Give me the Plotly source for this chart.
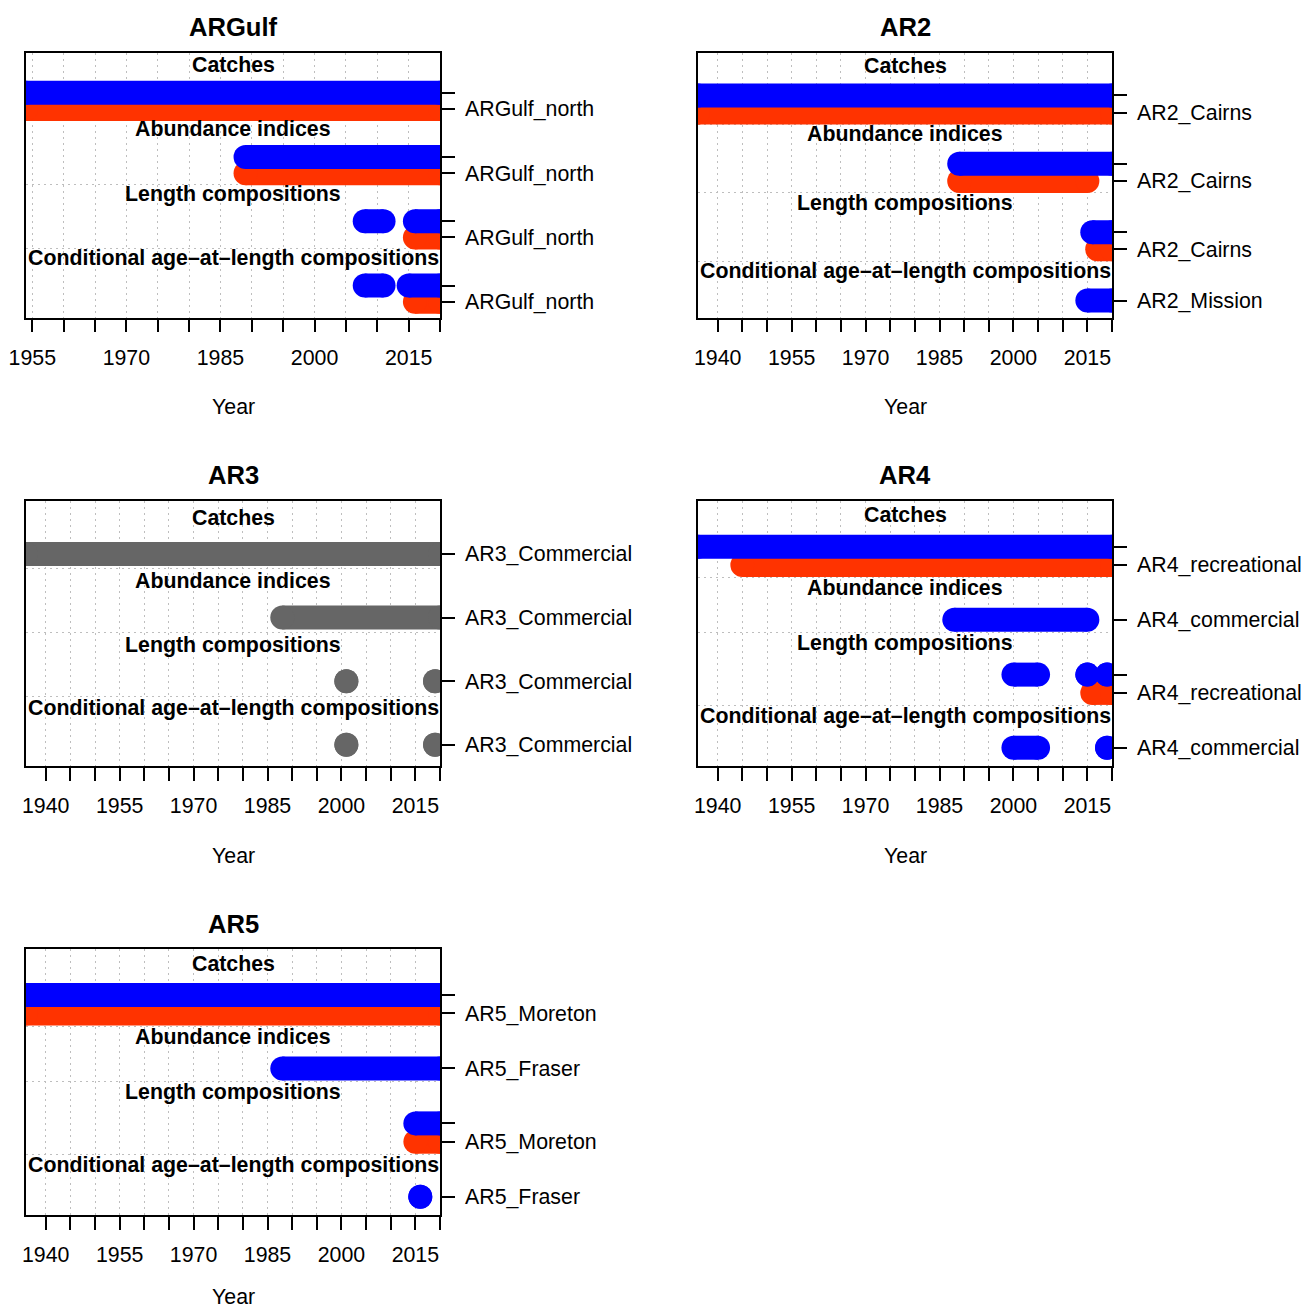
import plotly.graph_objects as go

# ---------------- data ----------------
TYPE_NAMES = ["Catches", "Abundance indices", "Length compositions",
              "Conditional age\u2013at\u2013length compositions"]
PANEL_TITLES = ["ARGulf", "AR2", "AR3", "AR4", "AR5"]

# ARGulf
ARGULF_ROW_TYPE = [0, 0, 1, 1, 2, 2, 3, 3]
ARGULF_ROW_FLEET = [0, 1, 0, 1, 0, 1, 0, 1]
ARGULF_ROW_LABEL = ["", "ARGulf_north", "", "ARGulf_north", "", "ARGulf_north", "", "ARGulf_north"]
ARGULF_ROW_YEARS = [
    [[1954, 2020]], [[1954, 2020]],
    [[1989, 2020]], [[1989, 2020]],
    [[2008, 2011], [2016, 2020]], [[2016, 2020]],
    [[2008, 2011], [2015, 2020]], [[2016, 2020]],
]
ARGULF_YEAR_LABELS = [1955, 1970, 1985, 2000, 2015]

# AR2
AR2_ROW_TYPE = [0, 0, 1, 1, 2, 2, 3]
AR2_ROW_FLEET = [0, 1, 0, 1, 0, 1, 0]
AR2_ROW_LABEL = ["", "AR2_Cairns", "", "AR2_Cairns", "", "AR2_Cairns", "AR2_Mission"]
AR2_ROW_YEARS = [
    [[1936, 2020]], [[1936, 2020]],
    [[1989, 2020]], [[1989, 2015]],
    [[2016, 2020]], [[2017, 2020]],
    [[2015, 2020]],
]
AR2_YEAR_LABELS = [1940, 1955, 1970, 1985, 2000, 2015]

# AR3
AR3_ROW_TYPE = [0, 1, 2, 3]
AR3_ROW_FLEET = [0, 0, 0, 0]
AR3_ROW_LABEL = ["AR3_Commercial", "AR3_Commercial", "AR3_Commercial", "AR3_Commercial"]
AR3_ROW_YEARS = [
    [[1936, 2020]],
    [[1988, 2020]],
    [[2001, 2001], [2019, 2019]],
    [[2001, 2001], [2019, 2019]],
]
AR3_YEAR_LABELS = [1940, 1955, 1970, 1985, 2000, 2015]

# AR4
AR4_ROW_TYPE = [0, 0, 1, 2, 2, 3]
AR4_ROW_FLEET = [0, 1, 0, 0, 1, 0]
AR4_ROW_LABEL = ["", "AR4_recreational", "AR4_commercial", "", "AR4_recreational", "AR4_commercial"]
AR4_ROW_YEARS = [
    [[1936, 2020]], [[1945, 2020]],
    [[1988, 2015]],
    [[2000, 2005], [2015, 2015], [2019, 2019]], [[2016, 2020]],
    [[2000, 2005], [2019, 2019]],
]
AR4_YEAR_LABELS = [1940, 1955, 1970, 1985, 2000, 2015]

# AR5
AR5_ROW_TYPE = [0, 0, 1, 2, 2, 3]
AR5_ROW_FLEET = [0, 1, 0, 0, 1, 0]
AR5_ROW_LABEL = ["", "AR5_Moreton", "AR5_Fraser", "", "AR5_Moreton", "AR5_Fraser"]
AR5_ROW_YEARS = [
    [[1936, 2020]], [[1936, 2020]],
    [[1988, 2020]],
    [[2015, 2020]], [[2015, 2020]],
    [[2016, 2016]],
]
AR5_YEAR_LABELS = [1940, 1955, 1970, 1985, 2000, 2015]

# ---------------- styles / layout ----------------
FLEET_COLORS_2 = ["#0000FF", "#FF3300"]
FLEET_COLORS_1 = ["#666666"]
FONT = "Liberation Sans, Arial, Helvetica, sans-serif"
BASE = 21.33
W, H = 1304, 1310
BOXES = [(26, 52.7, 440, 317.7), (698, 52.7, 1112, 317.7),
         (26, 501, 440, 766), (698, 501, 1112, 766),
         (26, 949.3, 440, 1215)]
BAR_W = 24


def fx(px):
    return px / W


def fy(py):
    return 1 - py / H


panels = [
    (ARGULF_ROW_TYPE, ARGULF_ROW_FLEET, ARGULF_ROW_LABEL, ARGULF_ROW_YEARS, ARGULF_YEAR_LABELS, FLEET_COLORS_2),
    (AR2_ROW_TYPE, AR2_ROW_FLEET, AR2_ROW_LABEL, AR2_ROW_YEARS, AR2_YEAR_LABELS, FLEET_COLORS_2),
    (AR3_ROW_TYPE, AR3_ROW_FLEET, AR3_ROW_LABEL, AR3_ROW_YEARS, AR3_YEAR_LABELS, FLEET_COLORS_1),
    (AR4_ROW_TYPE, AR4_ROW_FLEET, AR4_ROW_LABEL, AR4_ROW_YEARS, AR4_YEAR_LABELS, FLEET_COLORS_2),
    (AR5_ROW_TYPE, AR5_ROW_FLEET, AR5_ROW_LABEL, AR5_ROW_YEARS, AR5_YEAR_LABELS, FLEET_COLORS_2),
]

fig = go.Figure()
annotations = []
layout = dict(
    template="none",
    width=W, height=H, autosize=False,
    margin=dict(l=0, r=0, t=0, b=0, pad=0, autoexpand=False),
    paper_bgcolor="white", plot_bgcolor="white", showlegend=False,
    font=dict(family=FONT, size=BASE, color="black"),
)

for i, (rtype, rfleet, rlabel, ryears, ylabels, colors) in enumerate(panels):
    n = i + 1
    xa, ya = ("x" if n == 1 else f"x{n}"), ("y" if n == 1 else f"y{n}")
    x0, y0, x1, y1 = BOXES[i]

    # row positions: rows top->bottom; 3-unit gap between data types
    nrows = len(rtype)
    ypos = [0] * nrows
    cur = 1
    for r in range(nrows - 1, -1, -1):
        if r < nrows - 1:
            cur += 1 if rtype[r] == rtype[r + 1] else 3
        ypos[r] = cur
    top = ypos[0]
    group_top = {}
    for r in range(nrows):
        group_top.setdefault(rtype[r], ypos[r])
    separators = [group_top[t] + 2.3 for t in group_top if t != rtype[0]]

    all_years = [v for segs in ryears for s in segs for v in s]
    xmin, xmax = min(all_years), max(all_years)
    ticks5 = list(range(ylabels[0], xmax + 1, 5))
    ticktext = [str(v) if v in ylabels else "" for v in ticks5]

    # bars: draw bottom rows first so upper rows sit on top
    for r in range(nrows - 1, -1, -1):
        xs, ys = [], []
        for s, e in ryears[r]:
            xs += [s, e, None]
            ys += [ypos[r], ypos[r], None]
        col = colors[rfleet[r]]
        fig.add_trace(go.Scatter(
            x=xs, y=ys, xaxis=xa, yaxis=ya, mode="lines+markers",
            line=dict(color=col, width=BAR_W),
            marker=dict(color=col, size=BAR_W, line=dict(width=0)),
            hoverinfo="skip", showlegend=False, cliponaxis=True,
        ))

    axis_common = dict(
        ticks="outside", ticklen=13, tickwidth=2, tickcolor="black",
        showline=True, linecolor="black", linewidth=1.5, mirror=True,
        zeroline=False, automargin=False,
        tickfont=dict(family=FONT, size=BASE, color="black"),
    )
    layout["xaxis" if n == 1 else f"xaxis{n}"] = dict(
        domain=[fx(x0), fx(x1)], anchor=ya, range=[xmin, xmax],
        tickmode="array", tickvals=ticks5, ticktext=ticktext,
        showgrid=True, gridcolor="#BEBEBE", gridwidth=1.3, griddash="2px,4px",
        ticklabelstandoff=7, **axis_common,
    )
    layout["yaxis" if n == 1 else f"yaxis{n}"] = dict(
        domain=[fy(y1), fy(y0)], anchor=xa, side="right", range=[0, top + 2.5],
        tickmode="array", tickvals=ypos, ticktext=rlabel, showgrid=False,
        minor=dict(tickmode="array", tickvals=separators, showgrid=True,
                   gridcolor="#BEBEBE", gridwidth=1.3, griddash="2px,4px", ticks=""),
        ticklabelstandoff=6, **axis_common,
    )

    # type labels inside the panel
    for t, gt in group_top.items():
        annotations.append(dict(
            x=(xmin + xmax) / 2, y=gt + 1.72, xref=xa, yref=ya,
            xanchor="center", yanchor="middle",
            text=f"<b>{TYPE_NAMES[t]}</b>", showarrow=False,
            font=dict(family=FONT, size=BASE, color="black"),
        ))
    # panel title
    annotations.append(dict(
        x=fx((x0 + x1) / 2), y=fy(y0 - 25.7), xref="paper", yref="paper",
        xanchor="center", yanchor="middle",
        text=f"<b>{PANEL_TITLES[i]}</b>", showarrow=False,
        font=dict(family=FONT, size=BASE * 1.2, color="black"),
    ))
    # x axis title (kept fully inside the page at the bottom)
    title_py = min(y1 + 89.5, H - 13)
    annotations.append(dict(
        x=fx((x0 + x1) / 2), y=fy(title_py), xref="paper", yref="paper",
        xanchor="center", yanchor="middle",
        text="Year", showarrow=False,
        font=dict(family=FONT, size=BASE, color="black"),
    ))

layout["annotations"] = annotations
fig.update_layout(**layout)
fig.write_html(
    "out.html",
    config={"displayModeBar": False},
    post_script="document.body.style.margin='0';document.body.style.overflow='hidden';",
)
